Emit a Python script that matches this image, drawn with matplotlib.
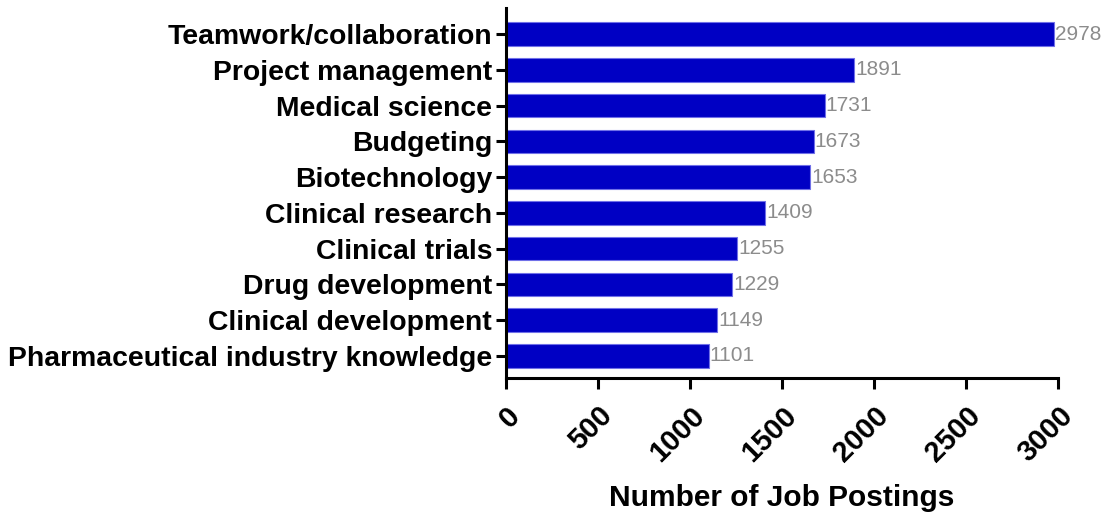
import matplotlib
matplotlib.use("Agg")
import matplotlib.pyplot as plt

skills = ["Teamwork/collaboration", "Project management", "Medical science", "Budgeting",
          "Biotechnology", "Clinical research", "Clinical trials", "Drug development",
          "Clinical development", "Pharmaceutical industry knowledge"]
counts = [2978, 1891, 1731, 1673, 1653, 1409, 1255, 1229, 1149, 1101]
xticks = [0, 500, 1000, 1500, 2000, 2500, 3000]

plt.rcParams['font.family'] = ['Liberation Sans', 'DejaVu Sans']

fig = plt.figure(figsize=(11.07, 5.12), dpi=100)
ax = fig.add_axes([0.457, 0.262, 0.499, 0.722])

n = len(skills)
ypos = list(range(n - 1, -1, -1))
ax.barh(ypos, counts, height=0.66, color='#0000C4', edgecolor='#7070E8', linewidth=0.8)
for y, v in zip(ypos, counts):
    ax.text(v + 5, y, str(v), va='center', ha='left', fontsize=15, color='#8C8C8C')

ax.set_ylim(-0.615, n - 1 + 0.726)
ax.set_xlim(0, 3000)
ax.set_yticks(ypos)
ax.set_yticklabels(skills, fontsize=20.4, fontweight='bold')
ax.set_xticks(xticks)
ax.set_xticklabels([str(t) for t in xticks], fontsize=21, fontweight='bold',
                   rotation=45, ha='right', va='top', rotation_mode='anchor')
ax.set_xlabel("Number of Job Postings", fontsize=21.5, fontweight='bold', labelpad=12)

for s in ['top', 'right']:
    ax.spines[s].set_visible(False)
for s in ['left', 'bottom']:
    ax.spines[s].set_linewidth(2.2)
ax.tick_params(axis='y', width=2.2, length=7, direction='out', pad=3)
ax.tick_params(axis='x', width=2.2, length=8, direction='out', pad=9)

fig.savefig("out.png", dpi=100)
